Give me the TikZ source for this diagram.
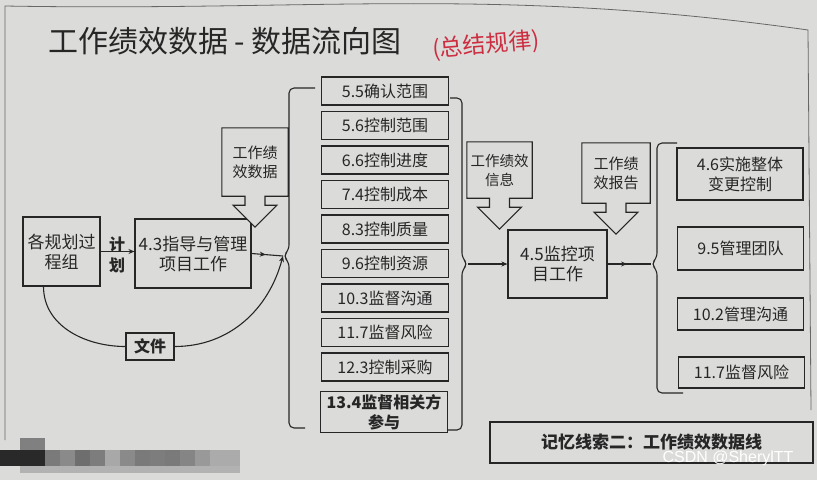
\documentclass[tikz,border=0pt]{standalone}
\usepackage{fontspec}
\setmainfont{Noto Sans CJK SC}
\newfontfamily\wmfont{Liberation Sans}
\usetikzlibrary{arrows.meta,decorations.markings}
\definecolor{paper}{RGB}{219,219,217}
\definecolor{ink}{RGB}{38,38,38}
\definecolor{pen}{RGB}{205,45,65}
\tikzset{
  line/.style={draw=ink,line width=1.1pt},
  box/.style={line,rectangle,inner sep=0pt,align=center,text=ink},
  mbox/.style={box,minimum width=127pt,minimum height=28pt,font=\fontsize{16}{20}\selectfont},
  rbox/.style={box,minimum width=126pt,font=\fontsize{16}{20}\selectfont},
  wbox/.style={box,font=\fontsize{17}{20}\selectfont},
  callbox/.style={rectangle,inner sep=0pt,align=center,text=ink,font=\fontsize{15}{19}\selectfont},
  midarrow/.style={postaction={decorate},decoration={markings,
    mark=at position 0.45 with {\arrow{Stealth[length=6pt,width=5pt]}}}},
  tip/.style={-{Stealth[length=6pt,width=5pt]}},
  brace/.style={line,rounded corners=5pt},
}
% block arrow under a callout box
\newcommand\calloutarrow[1]{%
  \draw[line,fill=paper] (#1.south west) -- (#1.north west) -- (#1.north east) -- (#1.south east)
    -- ([xshift=10pt]#1.south) -- ++(0,9) -- ++(12,0) -- ++(-22,22) -- ++(-22,-22)
    -- ++(12,0) -- ++(0,-9) -- cycle;}
\begin{document}
\begin{tikzpicture}[x=1pt,y=-1pt]
  \useasboundingbox[fill=paper] (0,0) rectangle (817,480);
  % page edge
  \draw[ink!70,line width=0.8pt] (5,440) -- (5,6) to[out=-1,in=172] (808,30) -- (811,410);
  % title
  \node[text=black!85,font=\fontsize{30}{34}\selectfont] (title) at (225,41) {工作绩效数据 - 数据流向图};
  \node[text=pen,rotate=5,font=\fontsize{23}{26}\selectfont] (note) at (486,45) {(总结规律)};

  % left part
  \node[wbox,minimum width=77pt,minimum height=69pt] (plan) at (61.5,251.5) {各规划过\\程组};
  \node[wbox,minimum width=116pt,minimum height=69pt] (d43) at (193,253.5) {4.3指导与管理\\项目工作};
  \node[text=ink,align=center,font=\bfseries\fontsize{16}{21}\selectfont] (jh) at (117,255) {计\\划};
  \node[box,minimum width=48pt,minimum height=27pt,font=\bfseries\fontsize{16}{20}\selectfont] (doc) at (150,346.5) {文件};
  \node[callbox,minimum width=66pt,minimum height=68pt] (wpd) at (255,162) {};
  \calloutarrow{wpd}
  \node[callbox] at (wpd) {工作绩\\效数据};

  % middle column
  \foreach \i/\t in {1/5.5确认范围,2/5.6控制范围,3/6.6控制进度,4/7.4控制成本,5/8.3控制质量,
                     6/9.6控制资源,7/10.3监督沟通,8/11.7监督风险,9/12.3控制采购}
    \node[mbox] (m\i) at (385,{91+34.5*(\i-1)}) {\t};
  \node[mbox,minimum height=41pt,font=\bfseries\fontsize{16}{20}\selectfont] (m10) at (384,412) {13.4监督相关方\\参与};

  \coordinate (brL) at (283,256);
  \coordinate (brM) at (468,264);
  \coordinate (brR) at (651,264);
  \draw[brace] (315,88) -- (289,88) -- (289,250) -- (brL) -- (289,262) -- (289,428) -- (305,428);
  \draw[brace] (450,98) -- (462,98) -- (462,258) -- (brM) -- (462,270) -- (462,430) -- (447,430);

  % 4.5
  \node[wbox,minimum width=99pt,minimum height=68pt] (m45) at (557.5,264) {4.5监控项\\目工作};
  \node[callbox,minimum width=65pt,minimum height=56pt] (wpi) at (499.5,170) {};
  \calloutarrow{wpi}
  \node[callbox,font=\fontsize{14.5}{19}\selectfont] at (wpi) {工作绩效\\信息};
  \node[callbox,minimum width=68pt,minimum height=60pt] (wpr) at (616,173) {};
  \calloutarrow{wpr}
  \node[callbox] at (wpr) {工作绩\\效报告};

  % right column
  \node[rbox,minimum height=52pt] (r1) at (740,174) {4.6实施整体\\变更控制};
  \node[rbox,minimum height=43pt] (r2) at (740.5,248.5) {9.5管理团队};
  \node[rbox,minimum height=32pt] (r3) at (740.5,314) {10.2管理沟通};
  \node[rbox,minimum height=31pt] (r4) at (741.5,372.5) {11.7监督风险};
  \draw[brace] (677,143) -- (657,143) -- (657,258) -- (brR) -- (657,270) -- (657,393) -- (683,393);

  % connectors
  \draw[line,tip] (plan.east) -- (plan.east -| d43.west);
  \draw[line,midarrow] (d43.east) -- (brL);
  \draw[line] ([xshift=-18pt]plan.south) to[out=270,in=180] (doc.west);
  \draw[line,tip] (doc.east) to[out=0,in=255] (brL);
  \draw[line,tip] (brM) -- (m45.west);
  \draw[line,midarrow] (m45.east) -- (brR);

  % memo line
  \node[box,minimum width=323pt,minimum height=41pt,font=\bfseries\fontsize{17}{20}\selectfont] (memo) at (651.5,442.5) {记忆线索二：工作绩效数据线};
  \node[text=white,font=\wmfont\fontsize{16}{16}\selectfont] (wm) at (728,458) {CSDN @SherylTT};

  % blurred corner
  \fill[black!50] (20,438) rectangle (45,450);
  \fill[black!84] (0,450) rectangle (45,466);
  \fill[black!30] (20,466) rectangle (240,473);
  \foreach \x/\g in {45/52,60/46,75/57,90/51,105/34,120/46,135/52,150/51,165/52,180/48,195/40,210/33,225/33}
    \fill[black!\g] (\x,450) rectangle ++(15,16);
\end{tikzpicture}
\end{document}
